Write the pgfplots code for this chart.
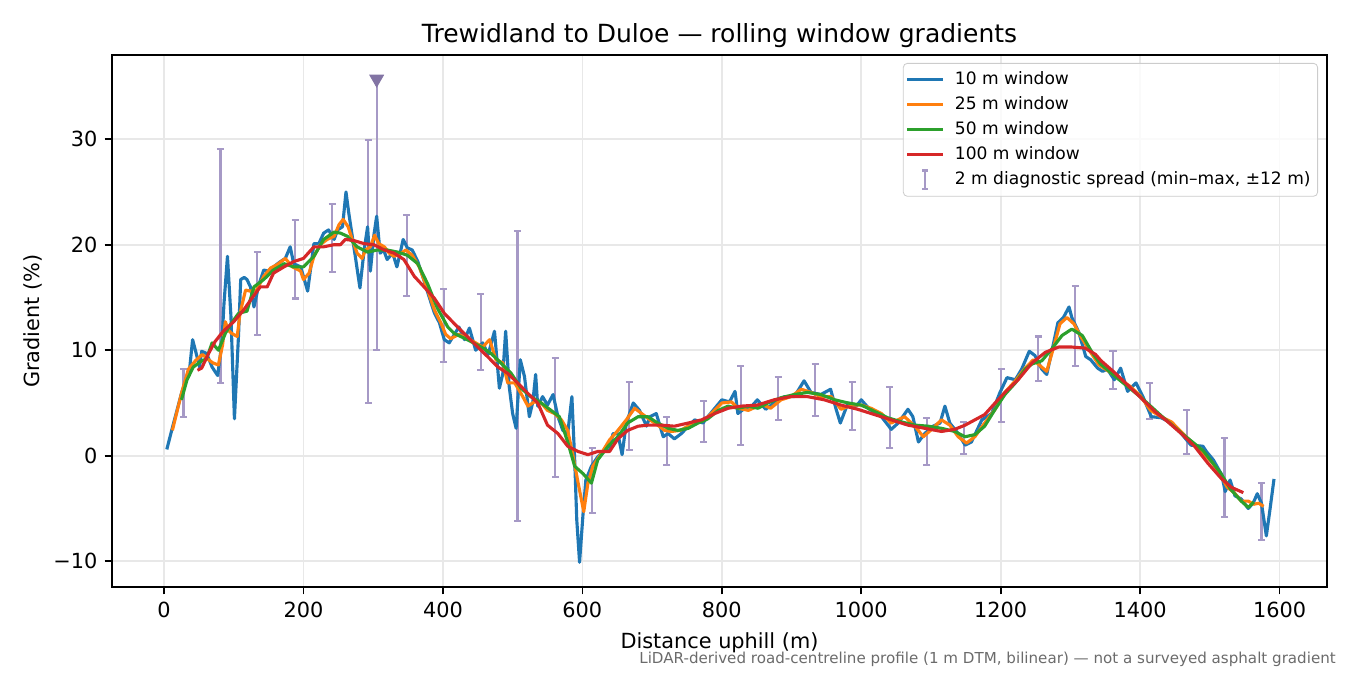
\documentclass[border=0pt]{standalone}
\usepackage{pgfplots}
\pgfplotsset{compat=1.18}
\usepackage{pgfplotstable}
\usepackage{fontspec}
\setmainfont{DejaVu Sans}

\definecolor{c10}{HTML}{1F77B4}
\definecolor{c25}{HTML}{FF7F0E}
\definecolor{c50}{HTML}{2CA02C}
\definecolor{c100}{HTML}{D62728}
\definecolor{errcol}{RGB}{166,153,198}
\definecolor{tricol}{RGB}{130,116,164}

% 2 m diagnostic spread: position, low, high
\pgfplotstableread{
x lo hi
28 3.7 8.2
81 6.9 29.1
134 11.4 19.3
188 14.9 22.3
241 17.4 23.9
293 5.0 29.9
348 15.1 22.8
401 8.9 15.8
454 8.1 15.3
507 -6.2 21.3
561 -2.0 9.3
614 -5.4 0.7
667 0.5 7.0
721 -0.9 3.7
774 1.3 5.2
827 1.0 8.5
881 3.4 7.5
934 3.8 8.7
987 2.4 7.0
1041 0.7 6.5
1094 -0.9 3.6
1147 0.2 3.2
1201 3.2 8.2
1254 7.1 11.3
1307 8.5 16.1
1361 6.3 9.9
1414 3.5 6.9
1467 0.2 4.3
1521 -5.8 1.7
1574 -8.0 -2.6
}\spread
\pgfplotstablecreatecol[expr={(\thisrow{lo}+\thisrow{hi})/2}]{mid}\spread
\pgfplotstablecreatecol[expr={(\thisrow{hi}-\thisrow{lo})/2}]{half}\spread

\begin{document}
\begin{tikzpicture}
\useasboundingbox (-53.76pt,-42.24pt) rectangle (594.24pt,281.8pt);
\begin{axis}[
    scale only axis,
    width=583.2pt, height=255.4pt,
    xmin=-74.6, xmax=1668, ymin=-12.45, ymax=37.98,
    axis line style={line width=0.8pt},
    tick align=outside,
    tick pos=left,
    major tick length=3.5pt,
    tick style={line width=0.8pt, black},
    xtick={0,200,...,1600},
    ytick={-10,0,10,20,30},
    yticklabels={−10,0,10,20,30},
    /pgf/number format/assume math mode=true,
    /pgf/number format/1000 sep={},
    scaled ticks=false,
    ticklabel style={font=\fontsize{10}{12}\selectfont},
    grid=major,
    grid style={line width=0.8pt, color=black!9},
    title={Trewidland to Duloe — rolling window gradients},
    every axis title/.style={at={(0.5,1)}, anchor=base, yshift=6.1pt, font=\fontsize{12}{14}\selectfont},
    xlabel={Distance uphill (m)},
    ylabel={Gradient (\%)},
    every axis x label/.style={at={(rel axis cs:0.5,0)}, yshift=-26.8pt, anchor=center, font=\fontsize{10}{12}\selectfont},
    every axis y label/.style={at={(rel axis cs:0,0.5)}, xshift=-37.9pt, rotate=90, anchor=center, font=\fontsize{10}{12}\selectfont},
    legend style={at={(1,1)}, anchor=north east, xshift=-4.3pt, yshift=-3.8pt,
        font=\fontsize{8.2}{10}\selectfont, draw=black!20, rounded corners=2pt,
        fill=white, fill opacity=0.8, text opacity=1, row sep=2.3pt, column sep=2.8pt,
        inner xsep=1.2pt, inner ysep=2.8pt,
        nodes={inner xsep=2.2pt, inner ysep=1pt}},
    legend cell align=left,
    legend image code/.code={\draw[#1] (0cm,0cm) -- (0.6cm,0cm);},
]

% diagnostic spread bars
\addplot[forget plot, draw=none, mark=none,
    error bars/.cd, y dir=both, y explicit,
    error bar style={draw=errcol, line width=1pt},
    error mark=|, error mark options={draw=errcol, line width=1pt, mark size=1.7pt}]
    table[x=x, y=mid, y error=half] {\spread};
\addplot[forget plot, errcol, line width=1pt, mark=-, mark indices={1},
    mark options={mark size=1.7pt}] coordinates {(305,10.0) (305,35.7)};
\addplot[forget plot, only marks, tricol, mark=triangle*,
    mark options={rotate=180, mark size=3.8pt}] coordinates {(305,35.7)};

\addplot[c10, line width=1.5pt, line join=round] coordinates {
(4,0.6)(11,2.4)(25,5.9)(37,8.4)(41,11.0)(45,10.0)(51,8.4)(54,9.9)(61,9.7)(69,8.4)
(77,7.6)(83,10.7)(86,14.4)(91,18.9)(96,13.2)(101,3.5)(107,11.6)(110,16.7)(115,16.9)(119,16.7)
(124,16.0)(129,14.1)(136,16.2)(143,17.6)(150,17.5)(157,17.9)(167,18.4)(174,18.7)(181,19.8)(186,18.2)
(196,17.9)(206,15.6)(215,20.1)(222,20.1)(229,21.1)(236,21.4)(244,20.5)(249,21.4)(256,21.7)(261,25.0)
(265,23.0)(270,20.8)(275,18.6)(281,15.9)(287,19.5)(292,21.7)(296,17.5)(301,20.9)(305,22.7)(310,19.2)
(315,19.5)(320,18.6)(328,19.2)(334,17.9)(339,19.3)(343,20.5)(349,19.7)(356,19.5)(364,18.4)(371,17.0)
(380,15.1)(388,13.5)(395,12.6)(402,11.0)(409,10.7)(423,12.2)(431,11.0)(438,12.1)(447,10.0)(457,10.7)
(465,9.6)(474,11.8)(481,6.4)(486,7.8)(490,11.8)(495,6.6)(500,4.0)(505,2.6)(511,9.1)(517,7.5)
(524,3.7)(529,5.1)(533,7.7)(536,4.7)(543,5.6)(550,4.8)(558,5.8)(565,3.7)(572,2.4)(579,2.1)
(585,5.6)(589,-0.4)(592,-6.1)(596,-10.1)(601,-5.5)(605,-2.3)(613,-1.0)(622,-0.1)(632,0.5)(639,0.5)
(644,2.1)(651,2.1)(657,0.1)(663,3.1)(673,5.0)(682,4.3)(692,2.8)(697,3.7)(706,4.0)(716,1.8)
(723,2.1)(732,1.6)(742,2.1)(752,2.8)(761,3.4)(773,3.1)(780,3.7)(790,4.5)(800,5.3)(811,5.1)
(819,6.1)(823,4.0)(833,4.5)(843,4.7)(851,5.3)(863,4.4)(875,5.0)(890,5.6)(904,5.6)(918,7.1)
(928,6.0)(942,5.8)(956,6.3)(964,4.4)(970,3.1)(981,5.0)(993,4.7)(1000,5.3)(1012,4.4)(1029,3.7)
(1043,2.5)(1053,3.1)(1067,4.4)(1074,3.7)(1082,1.3)(1091,2.1)(1103,2.8)(1113,3.1)(1120,4.7)(1127,3.1)
(1139,2.1)(1149,1.0)(1158,1.3)(1173,3.4)(1187,4.0)(1199,6.0)(1209,7.4)(1221,7.2)(1230,8.2)(1241,9.9)
(1249,9.5)(1259,8.2)(1266,7.7)(1273,9.8)(1282,12.6)(1290,13.1)(1298,14.1)(1302,13.1)(1312,11.7)(1322,9.4)
(1329,9.1)(1339,8.3)(1346,8.0)(1353,8.2)(1363,7.2)(1372,8.3)(1382,6.1)(1394,6.9)(1404,5.6)(1416,3.7)
(1430,3.6)(1445,3.1)(1459,2.1)(1473,1.0)(1490,0.9)(1495,0.4)(1505,-0.4)(1517,-1.8)(1522,-3.4)(1529,-2.3)
(1536,-3.8)(1545,-4.1)(1555,-5.0)(1562,-4.5)(1568,-3.6)(1574,-4.5)(1581,-7.6)(1586,-5.2)(1592,-2.2)
};
\addlegendentry{10 m window}

\addplot[c25, line width=1.5pt, line join=round] coordinates {
(12,2.4)(25,5.9)(35,8.2)(45,9.0)(55,9.6)(62,9.2)(70,8.8)(78,8.6)(84,10.5)(88,12.7)
(92,11.9)(97,11.6)(105,11.3)(109,13.5)(117,15.7)(124,15.6)(133,15.7)(143,17.0)(153,17.8)(162,18.1)
(174,18.7)(184,17.9)(196,17.5)(200,16.7)(208,17.3)(215,18.9)(224,20.0)(234,20.5)(244,20.8)(251,21.9)
(257,22.4)(264,21.7)(270,20.5)(277,19.2)(284,18.7)(289,19.5)(296,19.8)(302,20.9)(308,20.1)(316,19.8)
(323,19.2)(330,18.9)(340,19.2)(347,19.5)(356,19.0)(366,17.9)(375,16.3)(388,13.8)(397,12.6)(404,11.5)
(411,11.1)(423,11.5)(435,11.1)(447,10.7)(457,10.3)(467,11.0)(476,9.1)(486,8.8)(493,6.9)(503,6.9)
(512,5.9)(522,4.7)(531,5.1)(541,5.0)(550,4.3)(560,4.0)(570,3.4)(579,2.4)(586,0.2)(594,-2.6)
(602,-5.3)(608,-2.6)(615,-1.0)(627,0.2)(639,1.5)(651,2.4)(663,3.4)(675,4.5)(685,4.0)(697,3.4)
(708,2.9)(718,2.4)(728,2.3)(740,2.4)(752,2.8)(764,3.1)(776,3.4)(788,4.2)(800,5.0)(814,5.1)
(823,4.5)(838,4.3)(852,4.7)(860,4.8)(870,4.5)(885,5.3)(899,5.6)(914,6.3)(928,6.0)(942,5.6)
(957,5.6)(971,4.4)(986,4.8)(1000,4.8)(1014,4.5)(1029,4.0)(1043,3.1)(1062,3.7)(1077,2.8)(1089,1.8)
(1101,2.5)(1115,3.4)(1127,2.9)(1139,1.8)(1151,1.2)(1163,1.8)(1177,3.1)(1192,4.4)(1206,6.0)(1221,7.1)
(1235,8.3)(1247,9.1)(1257,8.5)(1266,8.0)(1276,10.3)(1285,12.5)(1295,13.1)(1305,12.5)(1314,11.4)(1326,10.1)
(1341,8.6)(1355,8.0)(1370,7.3)(1385,6.6)(1400,5.7)(1415,4.3)(1430,3.7)(1445,3.2)(1460,2.2)(1475,1.2)
(1490,0.3)(1505,-0.8)(1515,-1.8)(1525,-3.0)(1535,-3.5)(1545,-4.3)(1555,-4.3)(1563,-4.6)(1570,-4.5)(1577,-4.8)
};
\addlegendentry{25 m window}

\addplot[c50, line width=1.5pt, line join=round] coordinates {
(25,5.3)(33,7.2)(42,8.4)(52,8.9)(61,9.2)(69,10.7)(78,10.0)(88,11.6)(97,12.6)(107,13.5)
(119,13.7)(129,16.0)(143,16.7)(157,17.6)(172,18.2)(186,17.9)(200,17.9)(215,18.9)(229,20.5)(244,21.2)
(253,21.1)(263,20.8)(277,19.8)(292,19.3)(306,19.5)(320,19.5)(335,19.3)(349,19.0)(364,18.2)(378,16.3)
(392,14.0)(407,12.2)(416,11.6)(435,11.0)(455,10.3)(469,9.7)(483,8.8)(498,7.8)(512,6.4)(526,5.6)
(541,5.0)(555,4.3)(567,3.7)(579,1.3)(589,-1.0)(601,-1.7)(613,-2.6)(622,-0.4)(637,0.9)(651,1.8)
(665,3.1)(680,3.7)(694,3.7)(708,3.1)(723,2.6)(737,2.4)(752,2.6)(766,3.1)(780,3.5)(795,4.3)
(809,4.7)(823,4.5)(838,4.7)(852,4.5)(866,5.0)(885,5.5)(904,5.8)(923,6.0)(942,5.8)(962,5.3)
(981,5.0)(1000,4.8)(1019,4.2)(1038,3.6)(1058,3.2)(1077,2.9)(1096,2.8)(1115,2.6)(1134,2.3)(1149,1.8)
(1163,2.0)(1177,2.8)(1192,4.4)(1206,5.8)(1221,6.9)(1235,8.2)(1245,8.7)(1259,9.0)(1273,10.1)(1288,11.4)
(1302,12.0)(1317,11.4)(1331,9.8)(1343,8.7)(1370,7.2)(1400,5.6)(1430,3.8)(1460,2.1)(1490,0.5)(1515,-1.6)
(1530,-3.2)(1545,-4.3)(1555,-4.9)(1563,-4.4)
};
\addlegendentry{50 m window}

\addplot[c100, line width=1.5pt, line join=round] coordinates {
(48,8.1)(54,8.3)(64,9.7)(73,10.8)(85,11.8)(100,12.7)(114,13.8)(129,15.2)(138,16.0)(148,16.0)
(157,17.3)(172,17.9)(186,18.4)(200,18.7)(215,19.8)(229,19.8)(244,20.0)(253,20.0)(260,20.5)(272,20.4)
(287,20.1)(301,20.0)(316,19.5)(330,19.2)(344,18.6)(359,17.0)(373,16.0)(388,14.9)(402,13.5)(421,12.2)
(435,11.3)(450,10.3)(464,9.4)(479,8.4)(493,7.8)(507,6.9)(522,5.9)(536,5.0)(550,2.9)(565,2.1)
(579,0.9)(594,0.4)(608,0.1)(622,0.4)(639,0.4)(651,1.6)(665,2.4)(680,2.8)(694,2.9)(713,2.9)
(732,2.8)(752,3.1)(771,3.4)(790,4.0)(809,4.5)(828,4.7)(851,4.8)(875,5.3)(899,5.6)(923,5.6)
(947,5.3)(971,4.8)(995,4.4)(1019,3.9)(1043,3.4)(1067,2.9)(1091,2.6)(1115,2.3)(1134,2.5)(1149,2.9)
(1163,3.4)(1177,3.9)(1192,5.0)(1206,6.0)(1225,7.2)(1245,8.8)(1264,9.8)(1283,10.3)(1302,10.3)(1321,10.2)
(1336,9.6)(1344,9.0)(1363,7.9)(1382,6.7)(1401,5.5)(1421,4.2)(1440,3.2)(1459,2.1)(1478,0.9)(1497,-0.7)
(1517,-2.2)(1531,-3.0)(1548,-3.5)
};
\addlegendentry{100 m window}

\addlegendimage{legend image code/.code={
    \draw[errcol, line width=1pt] (0.3cm,-0.16cm) -- (0.3cm,0.16cm);
    \draw[errcol, line width=1pt] (0.25cm,-0.16cm) -- (0.35cm,-0.16cm);
    \draw[errcol, line width=1pt] (0.25cm,0.16cm) -- (0.35cm,0.16cm);
    \path[draw=none] (0cm,0cm) -- (0.6cm,0cm);}}
\addlegendentry{2 m diagnostic spread (min–max, ±12 m)}
\end{axis}
\node[anchor=base east, font=\fontsize{7.25}{8}\selectfont, text=black!58, inner sep=0pt]
    at (587.6pt,-36.5pt)
    {LiDAR-derived road-centreline profile (1 m DTM, bilinear) — not a surveyed asphalt gradient};
\end{tikzpicture}
\end{document}
